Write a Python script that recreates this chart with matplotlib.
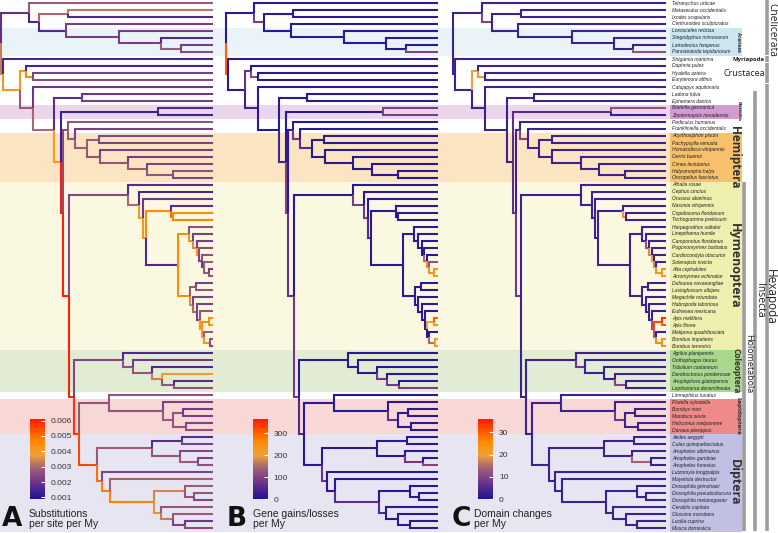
import matplotlib
matplotlib.use("Agg")
import matplotlib.pyplot as plt
from matplotlib.cm import ScalarMappable
from matplotlib.colors import LinearSegmentedColormap, Normalize

# ---------------------------------------------------------------- data
TIPS = [
    "Tetranychus urticae", "Metaseiulus occidentalis", "Ixodes scapularis",
    "Centruroides sculpturatus", "Loxosceles reclusa", "Stegodyphus mimosarum",
    "Latrodectus hesperus", "Parasteatoda tepidariorum", "Strigamia maritima",
    "Daphnia pulex", "Hyalella azteca", "Eurytemora affinis",
    "Catajapyx aquilonaris", "Ladona fulva", "Ephemera danica",
    "Blattella germanica", "Zootermopsis nevadensis", "Pediculus humanus",
    "Frankliniella occidentalis", "Acyrthosiphon pisum", "Pachypsylla venusta",
    "Homalodisca vitripennis", "Gerris buenoi", "Cimex lectularius",
    "Halyomorpha halys", "Oncopeltus fasciatus", "Athalia rosae",
    "Cephus cinctus", "Orussus abietinus", "Nasonia vitripennis",
    "Copidosoma floridanum", "Trichogramma pretiosum", "Harpegnathos saltator",
    "Linepithema humile", "Camponotus floridanus", "Pogonomyrmex barbatus",
    "Cardiocondyla obscurior", "Solenopsis invicta", "Atta cephalotes",
    "Acromyrmex echinatior", "Dufourea novaeangliae", "Lasioglossum albipes",
    "Megachile rotundata", "Habropoda laboriosa", "Eufriesea mexicana",
    "Apis mellifera", "Apis florea", "Melipona quadrifasciata",
    "Bombus impatiens", "Bombus terrestris", "Agrilus planipennis",
    "Onthophagus taurus", "Tribolium castaneum", "Dendroctonus ponderosae",
    "Anoplophora glabripennis", "Leptinotarsa decemlineata", "Limnephilus lunatus",
    "Plutella xylostella", "Bombyx mori", "Manduca sexta",
    "Heliconius melpomene", "Danaus plexippus", "Aedes aegypti",
    "Culex quinquefasciatus", "Anopheles albimanus", "Anopheles gambiae",
    "Anopheles funestus", "Lutzomyia longipalpis", "Mayetiola destructor",
    "Drosophila grimshawi", "Drosophila pseudoobscura", "Drosophila melanogaster",
    "Ceratitis capitata", "Glossina morsitans", "Lucilia cuprina",
    "Musca domestica",
]

# internal node, upper child, lower child, age (My)
CLADES = [
    ("Arthropoda", "Chelicerata", "Mandibulata", 584),
    ("Chelicerata", "Tetranychus urticae", "Chel2", 506),
    ("Chel2", "Acari", "Arachnopulmonata", 478),
    ("Acari", "Metaseiulus occidentalis", "Ixodes scapularis", 399),
    ("Arachnopulmonata", "Centruroides sculpturatus", "Araneae", 406),
    ("Araneae", "Loxosceles reclusa", "Araneomorphae", 258),
    ("Araneomorphae", "Stegodyphus mimosarum", "Theridiidae", 143),
    ("Theridiidae", "Latrodectus hesperus", "Parasteatoda tepidariorum", 89),
    ("Mandibulata", "Strigamia maritima", "Pancrustacea", 579),
    ("Pancrustacea", "Crustacea", "Hexapoda", 532),
    ("Crustacea", "Daphnia pulex", "Multicrustacea", 515),
    ("Multicrustacea", "Hyalella azteca", "Eurytemora affinis", 497),
    ("Hexapoda", "Catajapyx aquilonaris", "Pterygota", 496),
    ("Pterygota", "Palaeoptera", "Neoptera", 437),
    ("Palaeoptera", "Ladona fulva", "Ephemera danica", 362),
    ("Neoptera", "Blattodea", "Eumetabola", 419),
    ("Blattodea", "Blattella germanica", "Zootermopsis nevadensis", 151),
    ("Eumetabola", "Paraneoptera", "Holometabola", 412),
    ("Paraneoptera", "Pediculus humanus", "Condylognatha", 400),
    ("Condylognatha", "Frankliniella occidentalis", "Hemiptera", 380),
    ("Hemiptera", "Sternorrhyncha", "Euhemiptera", 348),
    ("Sternorrhyncha", "Acyrthosiphon pisum", "Pachypsylla venusta", 313),
    ("Euhemiptera", "Homalodisca vitripennis", "Heteroptera", 312),
    ("Heteroptera", "Gerris buenoi", "Panheteroptera", 234),
    ("Panheteroptera", "Cimex lectularius", "Pentatomomorpha", 183),
    ("Pentatomomorpha", "Halyomorpha halys", "Oncopeltus fasciatus", 112),
    ("Holometabola", "Hymenoptera", "Aparaglossata", 398),
    ("Hymenoptera", "Athalia rosae", "Unicalcarida", 234),
    ("Unicalcarida", "Cephus cinctus", "Vespina", 203),
    ("Vespina", "Orussus abietinus", "Apocrita", 194),
    ("Apocrita", "Chalcidoidea", "Aculeata", 185),
    ("Chalcidoidea", "Nasonia vitripennis", "Encyrt_Trichogr", 117),
    ("Encyrt_Trichogr", "Copidosoma floridanum", "Trichogramma pretiosum", 110),
    ("Aculeata", "Formicidae", "Anthophila", 98),
    ("Formicidae", "Harpegnathos saltator", "Formicoid", 66),
    ("Formicoid", "Linepithema humile", "Camp_Myrm", 55),
    ("Camp_Myrm", "Camponotus floridanus", "Myrmicinae", 46),
    ("Myrmicinae", "Pogonomyrmex barbatus", "Crematogastrini", 38),
    ("Crematogastrini", "Cardiocondyla obscurior", "Solen_Attini", 32),
    ("Solen_Attini", "Solenopsis invicta", "Attini", 26),
    ("Attini", "Atta cephalotes", "Acromyrmex echinatior", 11),
    ("Anthophila", "Halictidae", "Long_tongued", 64),
    ("Halictidae", "Dufourea novaeangliae", "Lasioglossum albipes", 48),
    ("Long_tongued", "Megachile rotundata", "Apidae", 55),
    ("Apidae", "Habropoda laboriosa", "Apinae", 46),
    ("Apinae", "Eufriesea mexicana", "Corbiculata", 37),
    ("Corbiculata", "Apis", "Melip_Bombus", 32),
    ("Apis", "Apis mellifera", "Apis florea", 11),
    ("Melip_Bombus", "Melipona quadrifasciata", "Bombus", 26),
    ("Bombus", "Bombus impatiens", "Bombus terrestris", 9),
    ("Aparaglossata", "Coleoptera", "Mecopterida", 383),
    ("Coleoptera", "Agrilus planipennis", "Col2", 248),
    ("Col2", "Onthophagus taurus", "Col3", 222),
    ("Col3", "Tribolium castaneum", "Col4", 169),
    ("Col4", "Dendroctonus ponderosae", "Chrysomeloidea", 140),
    ("Chrysomeloidea", "Anoplophora glabripennis", "Leptinotarsa decemlineata", 108),
    ("Mecopterida", "Amphiesmenoptera", "Diptera", 369),
    ("Amphiesmenoptera", "Limnephilus lunatus", "Lepidoptera", 287),
    ("Lepidoptera", "Plutella xylostella", "Ditrysia", 139),
    ("Ditrysia", "Bombycoidea", "Papilionoidea", 112),
    ("Bombycoidea", "Bombyx mori", "Manduca sexta", 84),
    ("Papilionoidea", "Heliconius melpomene", "Danaus plexippus", 76),
    ("Diptera", "Culicidae", "Dip2", 321),
    ("Culicidae", "Culicinae", "Anopheles", 169),
    ("Culicinae", "Aedes aegypti", "Culex quinquefasciatus", 87),
    ("Anopheles", "Anopheles albimanus", "Cellia", 92),
    ("Cellia", "Anopheles gambiae", "Anopheles funestus", 41),
    ("Dip2", "Lutzomyia longipalpis", "Dip3", 305),
    ("Dip3", "Mayetiola destructor", "Brachycera", 284),
    ("Brachycera", "Drosophila", "Dip_Cal", 163),
    ("Drosophila", "Drosophila grimshawi", "Sophophora", 78),
    ("Sophophora", "Drosophila pseudoobscura", "Drosophila melanogaster", 53),
    ("Dip_Cal", "Ceratitis capitata", "Calyptratae", 145),
    ("Calyptratae", "Glossina morsitans", "Musc_Oest", 110),
    ("Musc_Oest", "Lucilia cuprina", "Musca domestica", 78),
]

# rate on the branch leading to each tip (same order as TIPS)
TIP_RATE_A = [
    0.0028, 0.0032, 0.0016, 0.0022, 0.0022, 0.0016, 0.0022, 0.0025, 0.0015, 0.0015,
    0.0022, 0.0025, 0.0020, 0.0020, 0.0022, 0.0016, 0.0014, 0.0027, 0.0022, 0.0024,
    0.0023, 0.0022, 0.0022, 0.0023, 0.0026, 0.0024, 0.0017, 0.0015, 0.0020, 0.0017,
    0.0045, 0.0047, 0.0026, 0.0022, 0.0022, 0.0025, 0.0026, 0.0028, 0.0022, 0.0027,
    0.0023, 0.0027, 0.0023, 0.0023, 0.0027, 0.0045, 0.0042, 0.0028, 0.0027, 0.0024,
    0.0016, 0.0021, 0.0016, 0.0040, 0.0017, 0.0026, 0.0026, 0.0023, 0.0021, 0.0022,
    0.0023, 0.0026, 0.0017, 0.0022, 0.0024, 0.0023, 0.0026, 0.0023, 0.0029, 0.0028,
    0.0027, 0.0024, 0.0027, 0.0028, 0.0020, 0.0025,
]
# rate on the branch leading to each internal node (same order as CLADES)
CLADE_RATE_A = [
    0.0, 0.0018, 0.0015, 0.0030, 0.0016, 0.0022, 0.0022, 0.0028, 0.0033, 0.0042,
    0.0042, 0.0045, 0.0028, 0.0030, 0.0017, 0.0040, 0.0013, 0.0060, 0.0025, 0.0028,
    0.0028, 0.0028, 0.0027, 0.0027, 0.0028, 0.0027, 0.0060, 0.0024, 0.0030, 0.0040,
    0.0042, 0.0045, 0.0050, 0.0016, 0.0045, 0.0042, 0.0035, 0.0040, 0.0022, 0.0020,
    0.0028, 0.0045, 0.0028, 0.0035, 0.0030, 0.0022, 0.0042, 0.0045, 0.0040, 0.0042,
    0.0060, 0.0024, 0.0026, 0.0027, 0.0033, 0.0027, 0.0058, 0.0027, 0.0027, 0.0028,
    0.0027, 0.0027, 0.0055, 0.0028, 0.0017, 0.0027, 0.0028, 0.0050, 0.0048, 0.0047,
    0.0034, 0.0027, 0.0036, 0.0033, 0.0023,
]

# gene gains/losses per My: most branches sit near the floor
BASE_RATE_B = 12
RATE_B = {
    "Parasteatoda tepidariorum": 100, "Chel2": 90, "Mandibulata": 300,
    "Crustacea": 70, "Multicrustacea": 110, "Hexapoda": 30, "Neoptera": 40,
    "Blattella germanica": 95, "Zootermopsis nevadensis": 90, "Eumetabola": 100,
    "Condylognatha": 80, "Hemiptera": 60, "Holometabola": 70, "Unicalcarida": 90,
    "Vespina": 80, "Apocrita": 50, "Crematogastrini": 150, "Solen_Attini": 250,
    "Solenopsis invicta": 120, "Attini": 240, "Atta cephalotes": 230,
    "Acromyrmex echinatior": 220, "Apis": 200, "Apis mellifera": 300,
    "Apis florea": 230, "Bombus": 150, "Bombus impatiens": 220,
    "Bombus terrestris": 220, "Col4": 80, "Chrysomeloidea": 80,
    "Leptinotarsa decemlineata": 90, "Aparaglossata": 80, "Mecopterida": 50,
    "Ditrysia": 70, "Cellia": 80, "Anopheles funestus": 100, "Dip2": 70,
    "Brachycera": 60, "Dip_Cal": 50,
}

# domain changes per My
BASE_RATE_C = 3
RATE_C = {
    "Chel2": 10, "Parasteatoda tepidariorum": 12, "Crustacea": 20,
    "Multicrustacea": 22, "Blattella germanica": 12, "Blattodea": 6,
    "Condylognatha": 10, "Eumetabola": 6, "Holometabola": 8,
    "Encyrt_Trichogr": 22, "Camp_Myrm": 12, "Myrmicinae": 18,
    "Crematogastrini": 20, "Solen_Attini": 18, "Attini": 24,
    "Atta cephalotes": 22, "Acromyrmex echinatior": 22, "Corbiculata": 12,
    "Melip_Bombus": 14, "Apis": 32, "Apis mellifera": 34, "Apis florea": 30,
    "Bombus": 25, "Bombus impatiens": 22, "Bombus terrestris": 24,
    "Col2": 8, "Chrysomeloidea": 10, "Ditrysia": 8, "Cellia": 14,
}

BANDS = [
    ("Araneae", "Loxosceles reclusa", "Parasteatoda tepidariorum"),
    ("Blattodea", "Blattella germanica", "Zootermopsis nevadensis"),
    ("Hemiptera", "Acyrthosiphon pisum", "Oncopeltus fasciatus"),
    ("Hymenoptera", "Athalia rosae", "Bombus terrestris"),
    ("Coleoptera", "Agrilus planipennis", "Leptinotarsa decemlineata"),
    ("Lepidoptera", "Plutella xylostella", "Danaus plexippus"),
    ("Diptera", "Aedes aegypti", "Musca domestica"),
]
GROUPS = [
    ("Chelicerata", "Tetranychus urticae", "Parasteatoda tepidariorum"),
    ("Myriapoda", "Strigamia maritima", "Strigamia maritima"),
    ("Crustacea", "Daphnia pulex", "Eurytemora affinis"),
    ("Hexapoda", "Catajapyx aquilonaris", "Musca domestica"),
    ("Insecta", "Ladona fulva", "Musca domestica"),
    ("Holometabola", "Athalia rosae", "Musca domestica"),
]

# ---------------------------------------------------------------- styling
BAND_LIGHT = {"Araneae": "#e9f3f8", "Blattodea": "#ecd6ec", "Hemiptera": "#fbe4c2",
              "Hymenoptera": "#fbf8e1", "Coleoptera": "#e2ecd5", "Lepidoptera": "#f8d7d7",
              "Diptera": "#e7e5f2"}
BAND_STRONG = {"Araneae": "#cbe6f0", "Blattodea": "#d49bd0", "Hemiptera": "#f7c06a",
               "Hymenoptera": "#eeeeae", "Coleoptera": "#a9d78e", "Lepidoptera": "#ee8a8a",
               "Diptera": "#c1c0e4"}
BAND_FONT = {"Araneae": 3.4, "Blattodea": 3.0, "Hemiptera": 8.5, "Hymenoptera": 9,
             "Coleoptera": 6, "Lepidoptera": 4.5, "Diptera": 9}

cmap = LinearSegmentedColormap.from_list("rate", [
    (0.0, "#1d1494"), (0.2, "#6a3389"), (0.38, "#9d5f78"),
    (0.55, "#efa03a"), (0.72, "#ff8a00"), (0.88, "#ff4a00"), (1.0, "#ff1a0a"),
])

W, H = 778, 533
ROW0, ROW_STEP = 3.0, 7.0          # pixel row of first tip, tip spacing
TIP_PX = 213.3                     # tree depth in pixels
AGE_SPAN = TIP_PX * 2.75           # My spanned by the tree axes
YLIM = ((H - ROW0) / ROW_STEP, -ROW0 / ROW_STEP)
SANS = ["Liberation Sans", "DejaVu Sans"]
OPEN = ["Open Sans", "DejaVu Sans"]


def layout():
    age = {t: 0.0 for t in TIPS}
    ypos = {t: float(i) for i, t in enumerate(TIPS)}
    parent = {}
    for name, c1, c2, a in CLADES:
        age[name] = a
        parent[c1] = name
        parent[c2] = name
    for name, c1, c2, a in reversed(CLADES):
        ypos[name] = 0.5 * (ypos[c1] + ypos[c2])
    return age, ypos, parent


def main() -> None:
    age, ypos, parent = layout()
    rate_a = dict(zip(TIPS, TIP_RATE_A))
    rate_a.update({c[0]: r for c, r in zip(CLADES, CLADE_RATE_A)})
    rate_b = {n: RATE_B.get(n, BASE_RATE_B) for n in age}
    rate_c = {n: RATE_C.get(n, BASE_RATE_C) for n in age}

    fig = plt.figure(figsize=(W / 100, H / 100), dpi=100)

    bg = fig.add_axes([0, 0, 1, 1])
    bg.set_xlim(0, W)
    bg.set_ylim(*YLIM)
    bg.axis("off")
    for name, first, last in BANDS:
        i0, i1 = TIPS.index(first) - 0.5, TIPS.index(last) + 0.5
        bg.fill_between([0, 670], i0, i1, color=BAND_LIGHT[name], lw=0)
        bg.fill_between([670, 742], i0, i1, color=BAND_STRONG[name], lw=0)
        bg.text(741, 0.5 * (i0 + i1), name, rotation=270, ha="right", va="center",
                fontsize=BAND_FONT[name], fontweight="bold", color="#333333",
                family=OPEN)

    for i, t in enumerate(TIPS):
        bg.text(672, i, t, fontsize=3.6, style="italic", va="center", ha="left",
                color="#222222", family=SANS)

    bar_x = {"Chelicerata": 767, "Myriapoda": 767, "Crustacea": 767,
             "Hexapoda": 767, "Insecta": 755.5, "Holometabola": 744.5}
    for name, first, last in GROUPS:
        i0, i1 = TIPS.index(first) - 0.4, TIPS.index(last) + 0.4
        bg.plot([bar_x[name]] * 2, [i0, i1], color="#9d9d9d", lw=2.6,
                solid_capstyle="butt")
    bg.text(777, 3.85, "Chelicerata", rotation=270, ha="right", va="center",
            fontsize=7.4, color="#222222", family=OPEN)
    bg.text(765, TIPS.index("Strigamia maritima"), "Myriapoda", ha="right",
            va="center", fontsize=4.3, fontweight="bold", color="#222222", family=OPEN)
    bg.text(765, TIPS.index("Hyalella azteca"), "Crustacea", ha="right",
            va="center", fontsize=6.5, color="#222222", family=OPEN)
    bg.text(777, 42, "Hexapoda", rotation=270, ha="right", va="center",
            fontsize=8.5, color="#222222", family=OPEN)
    bg.text(765, 42.5, "Insecta", rotation=270, ha="right", va="center",
            fontsize=7.5, color="#222222", family=OPEN)
    bg.text(753, 51.5, "Holometabola", rotation=270, ha="right", va="center",
            fontsize=6.5, color="#222222", family=OPEN)

    # left edge, colourbar offset, caption offset, letter offset (pixels)
    panels = [
        (0.0, 30, 29, 2, rate_a, Normalize(0.0009, 0.0061),
         [0.001, 0.002, 0.003, 0.004, 0.005, 0.006], "{:.3f}",
         "Substitutions\nper site per My", "A"),
        (225.0, 28, 28, 2, rate_b, Normalize(0, 365), [0, 100, 200, 300], "{:d}",
         "Gene gains/losses\nper My", "B"),
        (452.4, 26, 22, -1, rate_c, Normalize(0, 36), [0, 10, 20, 30], "{:d}",
         "Domain changes\nper My", "C"),
    ]
    for left, cb_dx, cap_dx, let_dx, rates, norm, ticks, fmt, caption, letter in panels:
        ax = fig.add_axes([left / W, 0, TIP_PX / W, 1])
        ax.set_xlim(AGE_SPAN, 0)
        ax.set_ylim(*YLIM)
        ax.axis("off")
        ax.patch.set_alpha(0)
        for child, par in parent.items():
            ax.plot([age[par], age[par], age[child]],
                    [ypos[par], ypos[child], ypos[child]],
                    color=cmap(norm(rates[child])), lw=1.5,
                    solid_joinstyle="miter", solid_capstyle="butt", clip_on=False)

        cax = fig.add_axes([(left + cb_dx) / W, (H - 499) / H, 15 / W, 80 / H])
        cb = fig.colorbar(ScalarMappable(norm=norm, cmap=cmap), cax=cax, ticks=ticks)
        cb.outline.set_visible(False)
        cb.set_ticklabels([fmt.format(t) for t in ticks])
        cax.tick_params(direction="in", length=3, width=0.8, color="white",
                        labelsize=6.1, labelcolor="#333333", pad=4)
        for lab in cax.get_yticklabels():
            lab.set_family(SANS)

        fig.text((left + cap_dx) / W, (H - 519) / H, caption, fontsize=7.5,
                 va="center", ha="left", color="#222222", family=SANS,
                 linespacing=1.12)
        fig.text((left + let_dx) / W, (H - 519) / H, letter, fontsize=19,
                 fontweight="bold", va="center", ha="left", color="#111111",
                 family=["DejaVu Sans"])

    fig.savefig("out.png", dpi=100)


if __name__ == "__main__":
    main()
